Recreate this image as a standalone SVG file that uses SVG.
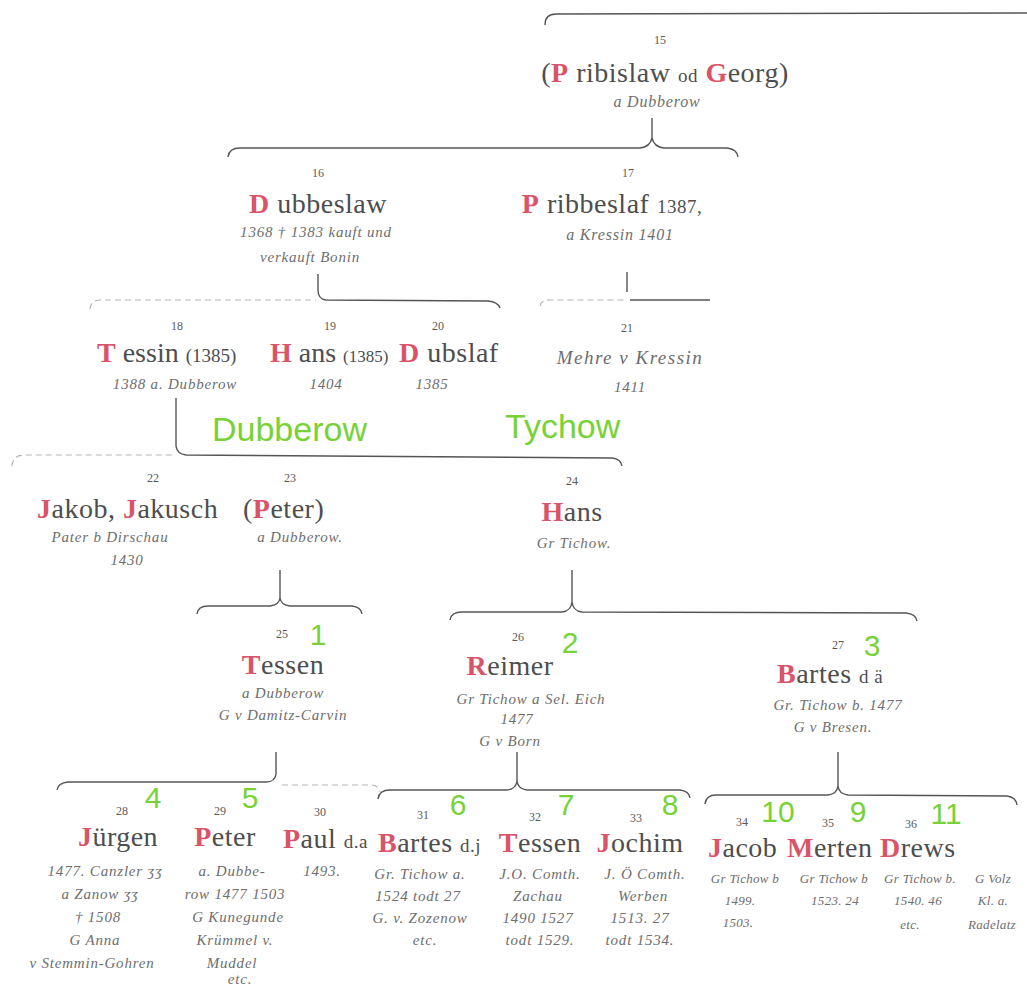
<svg xmlns="http://www.w3.org/2000/svg" width="1027" height="986" viewBox="0 0 1027 986">
<style>
.bg{fill:#fff}
.n{font-family:"Liberation Serif",serif;font-size:28px;fill:#4e4e4e;letter-spacing:0.5px}
.ns{font-size:19px}
.r{fill:#d95468;font-weight:bold}
.num{font-family:"Liberation Serif",serif;font-size:12px;fill:#5a5a5a;text-anchor:middle}
.i{font-family:"Liberation Serif",serif;font-style:italic;font-size:15px;fill:#6e6e6e;text-anchor:middle;letter-spacing:0.8px}
.is{font-size:13px;letter-spacing:0.3px}
.g{font-family:"Liberation Sans",sans-serif;fill:#78d237}
.gn{font-family:"Liberation Sans",sans-serif;fill:#78d237;font-size:30px;text-anchor:middle}
.ln{fill:none;stroke:#555;stroke-width:1.4}
.dl{fill:none;stroke:#b5b5b5;stroke-width:1.2;stroke-dasharray:6 4}
</style>
<rect class="bg" width="1027" height="986"/>
<g id="connectors">
<path class="ln" d="M545,25 Q545,14 556,14 L1027,13"/>
<path class="ln" d="M652,118 L652,138 M228,157 Q229,148 240,148 L640,148 Q650,147 652,138 Q654,147 664,148 L727,148 Q737,149 738,157"/>
<path class="ln" d="M318,274 L318,290 Q318,299 326,300 L488,301 Q498,302 500,308"/>
<path class="dl" d="M90,309 Q91,300 100,300 L316,300"/>
<path class="ln" d="M627,272 L627,292 M630,300 L710,300"/>
<path class="dl" d="M540,306 Q541,300 550,300 L624,300"/>
<path class="ln" d="M176,398 L176,446 Q177,454 186,455 L612,458 Q621,459 622,466"/>
<path class="dl" d="M12,466 Q13,455 24,455 L172,455"/>
<path class="ln" d="M280,570 L280,598 M197,614 Q198,606 208,606 L270,606 Q279,605 280,598 Q281,605 290,606 L352,606 Q361,607 362,614"/>
<path class="ln" d="M572,570 L572,602 M450,620 Q451,612 462,612 L562,612 Q571,611 572,602 Q573,611 582,612 L906,613 Q916,614 917,621"/>
<path class="ln" d="M276,752 L276,774 Q275,782 266,782 L68,782 Q58,783 57,790"/>
<path class="dl" d="M282,785 L372,785 Q379,786 380,792"/>
<path class="ln" d="M517,752 L517,781 M378,799 Q379,790 390,790 L507,790 Q516,789 517,781 Q518,789 527,790 L680,790 Q689,791 690,798"/>
<path class="ln" d="M838,752 L838,786 M705,804 Q706,795 716,795 L828,795 Q837,794 838,786 Q839,794 848,795 L1007,796 Q1016,797 1017,805"/>
</g>
<g id="n15">
<text class="num" x="660" y="44">15</text>
<text class="n" x="665" y="82" text-anchor="middle">(<tspan class="r">P</tspan> ribislaw <tspan class="ns">od</tspan> <tspan class="r">G</tspan>eorg)</text>
<text class="i" x="657" y="107" style="font-size:16px">a    Dubberow</text>
</g>
<g id="n16">
<text class="num" x="318" y="177">16</text>
<text class="n" x="318" y="213" text-anchor="middle"><tspan class="r">D</tspan> ubbeslaw</text>
<text class="i" x="316" y="237">1368 † 1383 kauft und</text>
<text class="i" x="310" y="262">verkauft  Bonin</text>
</g>
<g id="n17">
<text class="num" x="628" y="177">17</text>
<text class="n" x="612" y="213" text-anchor="middle"><tspan class="r">P</tspan> ribbeslaf <tspan class="ns">1387,</tspan></text>
<text class="i" x="620" y="240" style="font-size:16px">a   Kressin  1401</text>
</g>
<g id="n18">
<text class="num" x="177" y="330">18</text>
<text class="n" x="97" y="362" style="letter-spacing:0"><tspan class="r">T</tspan> essin <tspan class="ns">(1385)</tspan></text>
<text class="i" x="175" y="389">1388 a. Dubberow</text>
</g>
<g id="n19">
<text class="num" x="330" y="330">19</text>
<text class="n" x="270" y="362" style="letter-spacing:0"><tspan class="r">H</tspan> ans <tspan class="ns" style="font-size:17px">(1385)</tspan></text>
<text class="i" x="326" y="389">1404</text>
</g>
<g id="n20">
<text class="num" x="438" y="330">20</text>
<text class="n" x="399" y="362"><tspan class="r">D</tspan> ubslaf</text>
<text class="i" x="432" y="389">1385</text>
</g>
<g id="n21">
<text class="num" x="627" y="332">21</text>
<text class="i" x="630" y="364" style="font-size:19px;letter-spacing:1.5px">Mehre  v  Kressin</text>
<text class="i" x="630" y="392">1411</text>
</g>
<g id="labels">
<text class="g" x="212" y="441" style="font-size:34px">Dubberow</text>
<text class="g" x="505" y="438" style="font-size:34px">Tychow</text>
</g>
<g id="n22">
<text class="num" x="153" y="482">22</text>
<text class="n" x="37" y="518"><tspan class="r">J</tspan>akob, <tspan class="r">J</tspan>akusch</text>
<text class="i" x="110" y="542">Pater b  Dirschau</text>
<text class="i" x="127" y="565">1430</text>
</g>
<g id="n23">
<text class="num" x="290" y="482">23</text>
<text class="n" x="243" y="518">(<tspan class="r">P</tspan>eter)</text>
<text class="i" x="300" y="542">a  Dubberow.</text>
</g>
<g id="n24">
<text class="num" x="572" y="485">24</text>
<text class="n" x="572" y="521" text-anchor="middle"><tspan class="r">H</tspan>ans</text>
<text class="i" x="574" y="548">Gr Tichow.</text>
</g>
<g id="n25">
<text class="num" x="282" y="638">25</text>
<text class="gn" x="318" y="645">1</text>
<text class="n" x="283" y="674" text-anchor="middle"><tspan class="r">T</tspan>essen</text>
<text class="i" x="283" y="698">a  Dubberow</text>
<text class="i" x="283" y="720">G  v Damitz-Carvin</text>
</g>
<g id="n26">
<text class="num" x="518" y="641">26</text>
<text class="gn" x="570" y="653">2</text>
<text class="n" x="510" y="675" text-anchor="middle"><tspan class="r">R</tspan>eimer</text>
<text class="i" x="531" y="704">Gr Tichow  a  Sel. Eich</text>
<text class="i" x="517" y="724">1477</text>
<text class="i" x="510" y="746">G  v Born</text>
</g>
<g id="n27">
<text class="num" x="838" y="649">27</text>
<text class="gn" x="872" y="656">3</text>
<text class="n" x="777" y="683"><tspan class="r">B</tspan>artes <tspan class="ns">d ä</tspan></text>
<text class="i" x="838" y="710">Gr. Tichow b.  1477</text>
<text class="i" x="833" y="732">G  v  Bresen.</text>
</g>
<g id="n28">
<text class="num" x="122" y="815">28</text>
<text class="gn" x="153" y="808">4</text>
<text class="n" x="118" y="846" text-anchor="middle"><tspan class="r">J</tspan>ürgen</text>
<text class="i" x="105" y="876">1477. Canzler ʒʒ</text>
<text class="i" x="100" y="899">a  Zanow ʒʒ</text>
<text class="i" x="98" y="922">† 1508</text>
<text class="i" x="95" y="945">G  Anna</text>
<text class="i" x="92" y="968">v Stemmin-Gohren</text>
</g>
<g id="n29">
<text class="num" x="220" y="815">29</text>
<text class="gn" x="250" y="808">5</text>
<text class="n" x="225" y="846" text-anchor="middle"><tspan class="r">P</tspan>eter</text>
<text class="i" x="232" y="876">a. Dubbe-</text>
<text class="i" x="235" y="899">row 1477 1503</text>
<text class="i" x="238" y="922">G Kunegunde</text>
<text class="i" x="235" y="945">Krümmel v.</text>
<text class="i" x="232" y="968">Muddel</text>
<text class="i" x="240" y="984">etc.</text>
</g>
<g id="n30">
<text class="num" x="320" y="816">30</text>
<text class="n" x="283" y="848"><tspan class="r">P</tspan>aul <tspan class="ns">d.a</tspan></text>
<text class="i" x="322" y="876">1493.</text>
</g>
<g id="n31">
<text class="num" x="423" y="819">31</text>
<text class="gn" x="458" y="815">6</text>
<text class="n" x="378" y="852"><tspan class="r">B</tspan>artes <tspan class="ns">d.j</tspan></text>
<text class="i" x="420" y="879">Gr. Tichow a.</text>
<text class="i" x="418" y="901">1524  todt 27</text>
<text class="i" x="420" y="923">G. v. Zozenow</text>
<text class="i" x="425" y="945">etc.</text>
</g>
<g id="n32">
<text class="num" x="535" y="821">32</text>
<text class="gn" x="566" y="815">7</text>
<text class="n" x="540" y="852" text-anchor="middle"><tspan class="r">T</tspan>essen</text>
<text class="i" x="540" y="879">J.O. Comth.</text>
<text class="i" x="538" y="901">Zachau</text>
<text class="i" x="538" y="923">1490  1527</text>
<text class="i" x="540" y="945">todt 1529.</text>
</g>
<g id="n33">
<text class="num" x="636" y="822">33</text>
<text class="gn" x="670" y="815">8</text>
<text class="n" x="640" y="852" text-anchor="middle"><tspan class="r">J</tspan>ochim</text>
<text class="i" x="645" y="879">J. Ö Comth.</text>
<text class="i" x="643" y="901">Werben</text>
<text class="i" x="640" y="923">1513. 27</text>
<text class="i" x="640" y="945">todt 1534.</text>
</g>
<g id="n34">
<text class="num" x="742" y="826">34</text>
<text class="gn" x="778" y="822">10</text>
<text class="n" x="708" y="857"><tspan class="r">J</tspan>acob</text>
<text class="i is" x="745" y="883">Gr Tichow b</text>
<text class="i is" x="740" y="905">1499.</text>
<text class="i is" x="738" y="927">1503.</text>
</g>
<g id="n35">
<text class="num" x="828" y="827">35</text>
<text class="gn" x="858" y="822">9</text>
<text class="n" x="787" y="857"><tspan class="r">M</tspan>erten</text>
<text class="i is" x="834" y="883">Gr Tichow b</text>
<text class="i is" x="835" y="905">1523. 24</text>
</g>
<g id="n36">
<text class="num" x="911" y="828">36</text>
<text class="gn" x="946" y="824">11</text>
<text class="n" x="880" y="857"><tspan class="r">D</tspan>rews</text>
<text class="i is" x="920" y="883">Gr Tichow b.</text>
<text class="i is" x="993" y="883">G Volz</text>
<text class="i is" x="918" y="905">1540. 46</text>
<text class="i is" x="993" y="905">Kl. a.</text>
<text class="i is" x="910" y="929">etc.</text>
<text class="i is" x="992" y="929">Radelatz</text>
</g>
</svg>
